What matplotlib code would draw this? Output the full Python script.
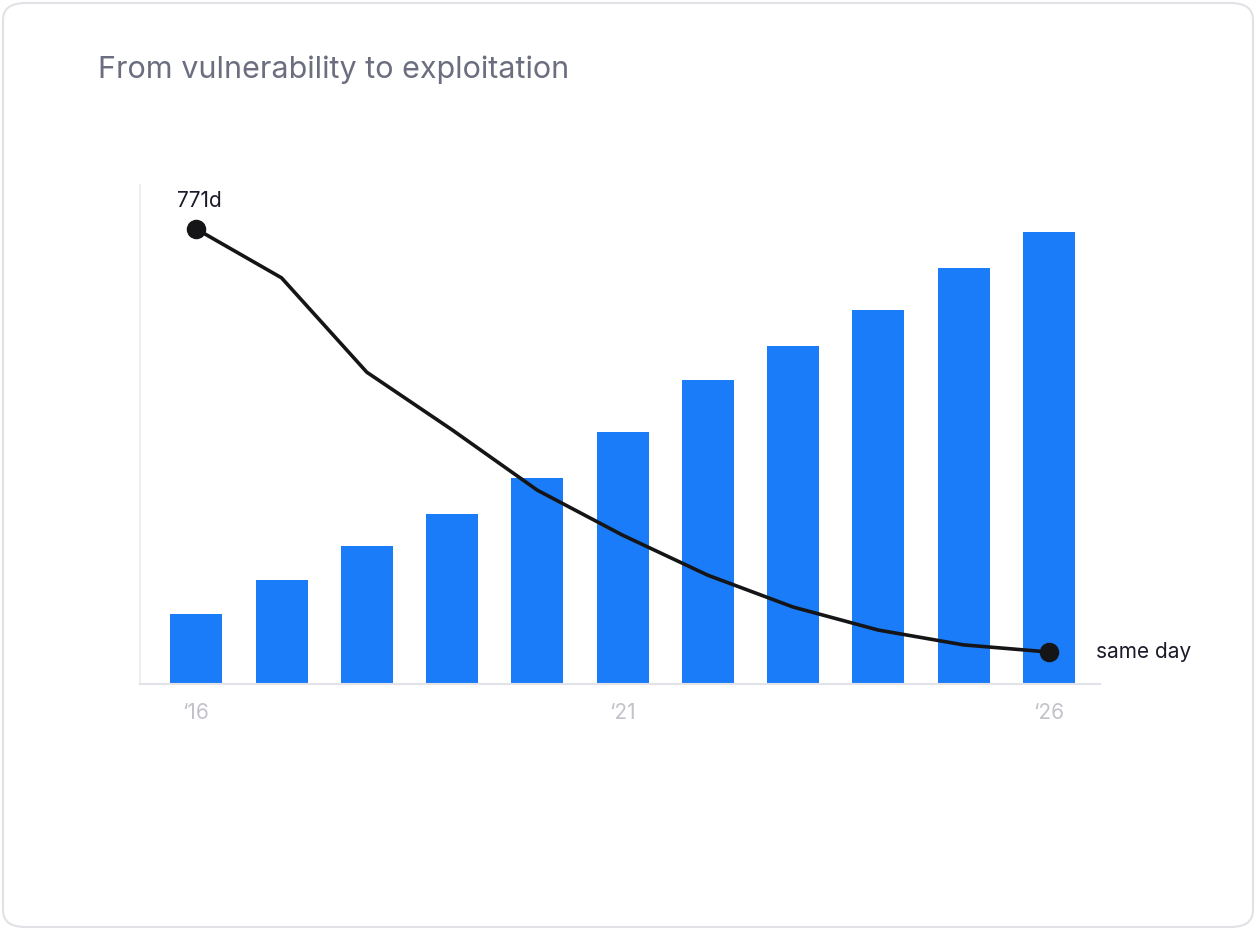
import matplotlib
matplotlib.use("Agg")
import matplotlib.pyplot as plt
from matplotlib.patches import FancyBboxPatch

years = list(range(2016, 2027))
bar_values = [70, 104, 138, 170, 206, 252, 304, 338, 374, 416, 452]
line_days = [771, 682, 510, 405, 295, 213, 140, 82, 40, 13, 0]
tick_years = [2016, 2021, 2026]
tick_labels = ["\u201816", "\u201821", "\u201826"]

plt.rcParams['font.family'] = ['Inter', 'DejaVu Sans']
fig = plt.figure(figsize=(12.56, 9.3), dpi=100)
fig.patch.set_facecolor('white')
card = FancyBboxPatch((3/1256, 3/930), 1250/1256, 924/930, transform=fig.transFigure,
                      boxstyle="round,pad=0,rounding_size=0.018", fc='white', ec='#e2e2e6', lw=1.5,
                      zorder=-10)
fig.patches.append(card)
fig.text(98/1256, 1-70/930, "From vulnerability to exploitation", fontsize=22,
         color='#6b6e7e', va='center', ha='left')

ax = fig.add_axes([140/1256, 1-684/930, 960/1256, 499/930])
ax.patch.set_alpha(0)
ax.bar(years, bar_values, width=0.61, color='#1a7cf8', zorder=2)
ax.set_xlim(2015.34, 2026.6)
ax.set_ylim(0, 499)
for s in ['top', 'right']:
    ax.spines[s].set_visible(False)
ax.spines['left'].set_color('#ebebef')
ax.spines['bottom'].set_color('#e2e2e8')
ax.spines['left'].set_linewidth(1.2)
ax.spines['bottom'].set_linewidth(1.5)
ax.set_yticks([])
ax.set_xticks(tick_years)
ax.set_xticklabels(tick_labels, fontsize=15, color='#c2c2ca')
ax.tick_params(axis='x', length=0, pad=14)

ax2 = ax.twinx()
ax2.set_ylim(-58.3, 851.2)
ax2.axis('off')
ax2.plot(years, line_days, color='#151518', lw=2.6, zorder=3)
ax2.scatter([years[0], years[-1]], [line_days[0], line_days[-1]], s=170, color='#151518', zorder=4)
ax2.annotate("771d", (years[0], line_days[0]), xytext=(-14, 13), textcoords='offset points',
             fontsize=15, color='#1a1a2a', ha='left', va='bottom')
ax2.annotate("same day", (years[-1], line_days[-1]), xytext=(34, 0), textcoords='offset points',
             fontsize=15, color='#1a1a2a', ha='left', va='center')

fig.savefig("out.png", dpi=100)
